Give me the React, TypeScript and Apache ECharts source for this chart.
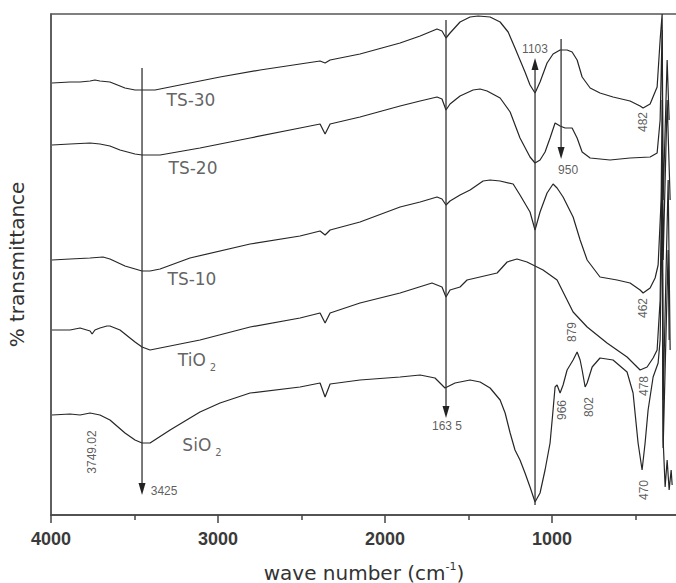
import React, { useEffect, useRef } from "react";
import * as echarts from "echarts";

// x: wave number (cm-1), y: relative transmittance (arbitrary units, offset curves)
const ts30: [number, number][] = [
  [3994, 432], [3886, 433], [3826, 433], [3766, 434], [3737, 435], [3707, 434], [3647, 433], [3557, 427],
  [3497, 425], [3455, 425], [3377, 425], [3228, 430], [2988, 438], [2748, 445], [2509, 451], [2389, 454],
  [2359, 452], [2329, 455], [2150, 461], [1910, 472], [1790, 479], [1689, 486], [1659, 484], [1635, 477],
  [1611, 482], [1551, 493], [1491, 498], [1443, 499], [1371, 498], [1311, 493], [1263, 483], [1222, 467],
  [1192, 455], [1162, 443], [1132, 430], [1102, 422], [1072, 433], [1030, 452], [994, 461], [952, 465],
  [910, 465], [880, 463], [850, 455], [820, 438], [772, 427], [713, 422], [635, 418], [533, 414],
  [473, 409], [455, 407], [413, 411], [371, 428], [353, 475], [341, 501], [335, 315], [311, 455], [299, 395],
];
const ts20: [number, number][] = [
  [3994, 370], [3886, 371], [3766, 372], [3707, 371], [3647, 369], [3587, 365], [3497, 361], [3455, 360],
  [3347, 360], [3108, 367], [2808, 377], [2509, 387], [2389, 391], [2359, 381], [2329, 391], [2150, 398],
  [1910, 409], [1790, 414], [1689, 418], [1659, 416], [1635, 405], [1611, 411], [1551, 419], [1473, 425],
  [1431, 426], [1389, 424], [1311, 417], [1251, 403], [1192, 377], [1132, 358], [1102, 352], [1072, 355],
  [1042, 363], [1012, 377], [982, 392], [952, 389], [922, 387], [880, 387], [850, 377], [820, 363],
  [772, 357], [653, 355], [533, 357], [413, 358], [371, 362], [353, 395], [341, 485], [335, 255],
  [311, 415], [293, 315],
];
const ts10: [number, number][] = [
  [3994, 255], [3886, 256], [3766, 257], [3689, 258], [3647, 256], [3557, 249], [3455, 244], [3407, 244],
  [3347, 246], [3168, 257], [2808, 271], [2509, 279], [2389, 284], [2359, 280], [2329, 285], [2150, 293],
  [1910, 308], [1790, 313], [1689, 318], [1659, 316], [1635, 310], [1611, 314], [1551, 320], [1491, 325],
  [1413, 334], [1371, 335], [1311, 334], [1233, 331], [1192, 320], [1132, 303], [1102, 285], [1072, 303],
  [1030, 322], [994, 331], [970, 327], [934, 318], [874, 298], [832, 275], [790, 255], [713, 238],
  [611, 235], [533, 232], [473, 225], [455, 222], [413, 227], [383, 237], [365, 250], [347, 315],
  [341, 415], [335, 115], [305, 335], [293, 165],
];
const tio2: [number, number][] = [
  [3994, 185], [3886, 185], [3826, 187], [3766, 184], [3754, 181], [3737, 185], [3707, 187], [3665, 189],
  [3647, 189], [3587, 185], [3497, 173], [3455, 168], [3407, 165], [3108, 175], [2808, 188], [2509, 197],
  [2389, 202], [2359, 192], [2329, 202], [2150, 212], [1910, 222], [1719, 232], [1659, 228], [1635, 218],
  [1611, 225], [1551, 228], [1509, 235], [1329, 242], [1269, 253], [1210, 256], [1150, 253], [1054, 245],
  [970, 235], [910, 215], [874, 203], [790, 188], [671, 172], [551, 158], [473, 145], [431, 148],
  [395, 157], [371, 165], [353, 215], [341, 365], [335, 67], [305, 265], [299, 175],
];
const sio2: [number, number][] = [
  [3994, 100], [3886, 101], [3826, 100], [3766, 102], [3707, 100], [3647, 95], [3557, 82], [3497, 75],
  [3455, 72], [3407, 72], [3287, 85], [3108, 103], [2988, 112], [2808, 122], [2509, 128], [2389, 132],
  [2359, 118], [2329, 131], [2150, 135], [1910, 138], [1790, 140], [1701, 137], [1641, 127], [1581, 132],
  [1491, 135], [1431, 133], [1371, 127], [1311, 115], [1281, 102], [1251, 82], [1222, 65], [1192, 55],
  [1162, 42], [1132, 28], [1102, 13], [1072, 22], [1042, 45], [1012, 72], [994, 105], [982, 128],
  [970, 130], [952, 122], [934, 130], [910, 145], [874, 155], [850, 163], [832, 155], [820, 145],
  [802, 128], [790, 132], [760, 148], [713, 157], [635, 155], [551, 143], [515, 122], [485, 72],
  [461, 45], [443, 72], [425, 105], [395, 138], [365, 152], [353, 175], [341, 315], [335, 75],
  [323, 28], [311, 55], [299, 25], [287, 45], [281, 30],
];

// annotation arrows: [wave number, from, to] (arrow head at "to")
const arrows: [number, number, number][] = [
  [3455, 447, 20],
  [1635, 495, 97],
  [1102, 10, 457],
  [946, 476, 356],
];

const sampleLabels: { text: string; w: number; v: number }[] = [
  { text: "{n|TS-30}", w: 3162, v: 415 },
  { text: "{n|TS-20}", w: 3150, v: 347 },
  { text: "{n|TS-10}", w: 3156, v: 236 },
  { text: "{n|TiO}{s|2}", w: 3126, v: 155 },
  { text: "{n|SiO}{s|2}", w: 3096, v: 70 },
];

const peakLabels: { text: string; w: number; v: number; rot: number }[] = [
  { text: "3425", w: 3323, v: 24, rot: 0 },
  { text: "163 5", w: 1629, v: 89, rot: 0 },
  { text: "1103", w: 1102, v: 466, rot: 0 },
  { text: "950", w: 904, v: 345, rot: 0 },
  { text: "3749.02", w: 3754, v: 63, rot: 90 },
  { text: "482", w: 455, v: 393, rot: 90 },
  { text: "462", w: 455, v: 207, rot: 90 },
  { text: "879", w: 880, v: 183, rot: 90 },
  { text: "966", w: 940, v: 105, rot: 90 },
  { text: "802", w: 778, v: 108, rot: 90 },
  { text: "478", w: 449, v: 129, rot: 90 },
  { text: "470", w: 449, v: 25, rot: 90 },
];

const majorTicks = [1000, 2000, 3000, 4000];
const minorTicks = [500, 1500, 2500, 3500];

export default function App() {
  const ref = useRef<HTMLDivElement>(null);
  useEffect(() => {
    if (!ref.current) return;
    const chart = echarts.init(ref.current, null, { renderer: "svg" });
    const curveColor = "#262626";
    const curves = [ts30, ts20, ts10, tio2, sio2].map((d) => ({
      type: "line",
      data: d,
      showSymbol: false,
      symbol: "none",
      lineStyle: { color: curveColor, width: 1.2 },
      silent: true,
      z: 3,
    }));
    const arrowSeries = arrows.map(([w, a, b]) => {
      const down = b < a;
      return {
        type: "line",
        data: [
          { value: [w, a], symbol: "none" },
          {
            value: [w, down ? b + 6 : b - 6],
            symbol: "triangle",
            symbolSize: [7, 12],
            symbolRotate: down ? 180 : 0,
            itemStyle: { color: "#222" },
          },
        ],
        showSymbol: true,
        lineStyle: { color: "#333", width: 1.3 },
        silent: true,
        z: 4,
      };
    });
    const option: any = {
      animation: false,
      grid: {
        left: 51,
        right: -1,
        top: 14,
        bottom: 68,
        outerBoundsMode: "none",
        containLabel: false,
        show: true,
        borderColor: "#555",
        borderWidth: 1.5,
        backgroundColor: "transparent",
      },
      xAxis: [
        {
          type: "value",
          inverse: true,
          min: 252,
          max: 4000,
          position: "bottom",
          axisLine: { show: true, onZero: false, lineStyle: { color: "#444", width: 1.5 } },
          axisTick: { show: true, length: 8, customValues: majorTicks, lineStyle: { color: "#444", width: 1.5 } },
          axisLabel: {
            customValues: majorTicks,
            formatter: (v: number) => String(v),
            margin: 15,
            fontSize: 18,
            fontWeight: "bold",
            fontFamily: "Liberation Sans",
            color: "#3a3a3a",
          },
          splitLine: { show: false },
          name: "{a|wave number (cm}{s|-1}{a|)}",
          nameLocation: "middle",
          nameGap: 46,
          nameTextStyle: {
            rich: {
              a: { fontSize: 20, fontFamily: "DejaVu Sans", color: "#333" },
              s: { fontSize: 11, fontFamily: "DejaVu Sans", color: "#333", padding: [0, 0, 12, 0] },
            },
          },
        },
        {
          type: "value",
          inverse: true,
          min: 252,
          max: 4000,
          position: "bottom",
          axisLine: { show: false },
          axisTick: { show: true, length: 5, customValues: minorTicks, lineStyle: { color: "#444", width: 1.5 } },
          axisLabel: { show: false },
          splitLine: { show: false },
        },
      ],
      yAxis: {
        type: "value",
        min: 0,
        max: 501,
        axisLine: { show: true, lineStyle: { color: "#555", width: 1.5 } },
        axisTick: { show: false },
        axisLabel: { show: false },
        splitLine: { show: false },
        name: "% transmittance",
        nameLocation: "middle",
        nameGap: 24,
        nameRotate: 90,
        nameTextStyle: { fontSize: 20, fontFamily: "DejaVu Sans", color: "#333" },
      },
      series: [
        ...curves,
        ...arrowSeries,
        {
          type: "scatter",
          symbolSize: 0,
          silent: true,
          z: 5,
          data: sampleLabels.map((l) => ({ value: [l.w, l.v], name: l.text })),
          label: {
            show: true,
            position: "inside",
            formatter: (p: any) => p.name,
            rich: {
              n: { fontSize: 17, fontFamily: "DejaVu Sans", color: "#3a3a3a" },
              s: { fontSize: 10, fontFamily: "DejaVu Sans", color: "#3a3a3a", padding: [14, 0, 0, 4] },
            },
          },
        },
        {
          type: "scatter",
          symbolSize: 0,
          silent: true,
          z: 5,
          data: peakLabels.map((l) => ({
            value: [l.w, l.v],
            name: l.text,
            label: { rotate: l.rot },
          })),
          label: {
            show: true,
            position: "inside",
            formatter: (p: any) => p.name,
            fontSize: 12,
            fontFamily: "Liberation Sans",
            color: "#333",
          },
        },
      ],
    };
    chart.setOption(option);
    return () => chart.dispose();
  }, []);
  return (
    <div
      ref={ref}
      style={{ position: "fixed", left: 0, top: 0, width: 676, height: 583, background: "#fff" }}
    />
  );
}
